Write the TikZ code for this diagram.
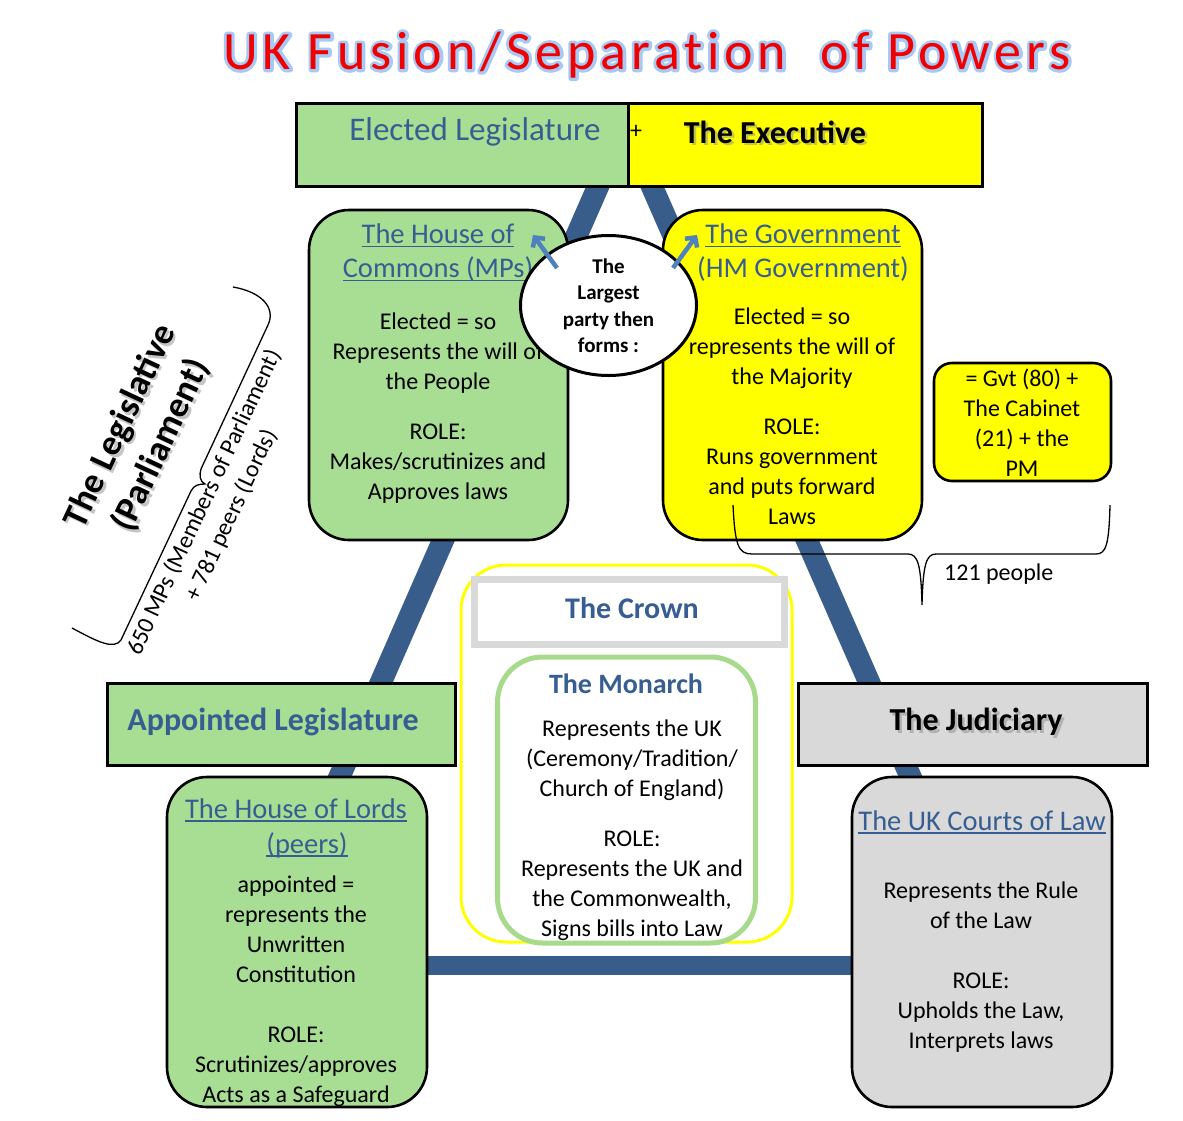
\documentclass[tikz,border=0pt]{standalone}
\usepackage{fontspec}
\setmainfont{Carlito}
\newfontfamily\titlefont[LetterSpace=9,Ligatures={NoCommon,NoRare,NoContextual}]{Carlito}
\usetikzlibrary{shapes.geometric,arrows.meta}
\definecolor{lgreen}{RGB}{168,222,148}
\definecolor{yel}{RGB}{255,255,0}
\definecolor{lgray}{RGB}{217,217,217}
\definecolor{hblue}{RGB}{55,94,146}
\definecolor{tri}{RGB}{56,93,138}
\definecolor{arrblue}{RGB}{79,129,189}
\definecolor{mgreen}{RGB}{168,218,140}
\definecolor{glow}{RGB}{165,200,245}
\definecolor{tred}{RGB}{240,0,0}
\newsavebox\ulbox
\newcommand\myul[1]{\sbox\ulbox{#1}\rlap{\rule[-3.5pt]{\wd\ulbox}{1.8pt}}\usebox\ulbox}
\newcommand\glowtext[1]{\special{pdf:literal direct 1 Tr 6 w 1 j 0.65 0.79 0.96 RG}#1\special{pdf:literal direct 0 Tr}}
\begin{document}
\begin{tikzpicture}[x=1pt,y=-1pt,
  body/.style={font=\fontsize{24}{30}\selectfont, align=center, inner sep=0pt},
  head/.style={font=\fontsize{28.5}{34}\selectfont, text=hblue, align=center, inner sep=0pt},
  bighead/.style={font=\bfseries\fontsize{32}{38}\selectfont, inner sep=0pt},
  rbox/.style={draw=black, line width=2.6pt, rounded corners=40pt, inner sep=0pt},
  sqbox/.style={draw=black, line width=3pt, inner sep=0pt},
  pillar/.style={draw=tri, line width=22pt, line join=round},
  link/.style={draw=arrblue, line width=4.5pt, -{Straight Barb[length=7pt,width=15pt]}},
  shade/.style={text=black!45, opacity=0.5},
  titlestyle/.style={font=\titlefont\fontsize{54}{60}\selectfont, inner sep=0pt},
  brace/.style={draw=black, line width=1.3pt},
]
\fill[white] (0,0) rectangle (1183,1120);
\useasboundingbox (0,0) rectangle (1183,1120);

% triangle
\coordinate (apex) at (625,125);
\coordinate (bl) at (257,965);
\coordinate (br) at (993,965);
\draw[pillar] (bl) -- (apex) -- (br);
\draw[draw=tri, line width=19pt] (bl) -- (br);

% title
\node[titlestyle, text=glow] (titleglow) at (647,55) {\glowtext{UK Fusion/Separation\ \ of Powers}};
\node[titlestyle, text=tred] (title) at (647,55) {UK Fusion/Separation\ \ of Powers};

% top box
\node[sqbox, fill=lgreen, minimum width=332, minimum height=83] (elbox) at (462,144.5) {};
\node[sqbox, fill=yel, minimum width=354, minimum height=83] (exbox) at (805,144.5) {};
\node[font=\fontsize{33}{38}\selectfont, text=hblue, inner sep=0pt] (eltext) at (475,132) {Elected Legislature};
\node[font=\fontsize{24}{28}\selectfont, inner sep=0pt] (plus) at (636,132) {+};
\node[bighead, shade] (exsh) at (777.5,134.5) {The Executive};
\node[bighead] (extext) at (775,132) {The Executive};

% House of Commons
\node[rbox, fill=lgreen, minimum width=259, minimum height=330] (commons) at (438.5,375) {};
\node[head] (commonsh) at (438,253) {\myul{The House of}\\\myul{Commons (MPs)}};
\node[body] (commonsb) at (438,408) {Elected = so\\Represents the will of\\the People\\[20pt]ROLE:\\Makes/scrutinizes and\\Approves laws};

% Government
\node[rbox, fill=yel, minimum width=259, minimum height=330] (govt) at (792.5,375) {};
\node[head] (govth) at (803,253) {\myul{The Government}\\(HM Government)};
\node[body] (govtb) at (792,416) {Elected = so\\represents the will of\\the Majority\\[20pt]ROLE:\\Runs government\\and puts forward\\Laws};

% ellipse
\node[ellipse, draw=black, line width=3pt, fill=white, minimum width=176, minimum height=140, inner sep=0pt,
      font=\bfseries\fontsize{21}{26.5}\selectfont, align=center] (party) at (608.5,305.5) {The\\Largest\\party then\\forms :};
\coordinate (a1s) at (557,268);
\coordinate (a1e) at (533,235);
\coordinate (a2s) at (673,268);
\coordinate (a2e) at (697,235);
\draw[link] (a1s) -- (a1e);
\draw[link] (a2s) -- (a2e);

% cabinet box
\node[draw=black, line width=2.6pt, rounded corners=18pt, fill=yel, minimum width=177, minimum height=118, inner sep=0pt] (cab) at (1022.5,422) {};
\node[body] (cabt) at (1022,423) {= Gvt (80) +\\The Cabinet\\(21) + the\\PM};

% right brace
\draw[brace] (733,505) .. controls (735,545) and (738,554) .. (752,554) -- (908,554)
  .. controls (918,554) and (921,565) .. (922,605)
  .. controls (923,565) and (926,554) .. (936,554) -- (1096,554)
  .. controls (1106,554) and (1109,545) .. (1110,505);
\node[body, anchor=west] (people) at (944,574) {121 people};

% left brace and rotated texts
\draw[brace] (72,628) .. controls (98,642) and (114,650) .. (121,640) -- (191,491)
  .. controls (194,485) and (199,484) .. (205,484)
  .. controls (200,482) and (199,475) .. (201,469) -- (268,325)
  .. controls (276,308) and (262,292) .. (233,287);
\node[font=\bfseries\fontsize{36}{45}\selectfont, align=center, inner sep=0pt, rotate=65, shade] (legsh) at (143.5,438.5) {The Legislative\\(Parliament)};
\node[font=\bfseries\fontsize{36}{45}\selectfont, align=center, inner sep=0pt, rotate=65] (leg) at (141,436) {The Legislative\\(Parliament)};
\node[body, rotate=65] (counts) at (218,509) {650 MPs (Members of Parliament)\\+ 781 peers (Lords)};

% crown
\node[draw=yel, line width=3pt, rounded corners=45pt, fill=white, minimum width=331, minimum height=377, inner sep=0pt] (crownout) at (626.5,753.5) {};
\node[draw=lgray, line width=7pt, fill=white, minimum width=310, minimum height=65, inner sep=0pt] (crownbox) at (629.5,611.5) {};
\node[font=\bfseries\fontsize{30}{36}\selectfont, text=hblue, inner sep=0pt] (crownt) at (632,608) {The Crown};
\node[draw=mgreen, line width=5pt, rounded corners=45pt, fill=white, minimum width=258, minimum height=286, inner sep=0pt] (monarch) at (626.5,800) {};
\node[font=\bfseries\fontsize{28}{34}\selectfont, text=hblue, inner sep=0pt] (monarchh) at (626,684) {The Monarch};
\node[body] (monarchb) at (632,830) {Represents the UK\\(Ceremony/Tradition/\\Church of England)\\[20pt]ROLE:\\Represents the UK and\\the Commonwealth,\\Signs bills into Law};

% appointed legislature & lords
\node[sqbox, fill=lgreen, minimum width=348, minimum height=82] (apbox) at (281,724) {};
\node[bighead, text=hblue] (aptext) at (273,722) {Appointed Legislature};
\node[rbox, fill=lgreen, minimum width=260, minimum height=330] (lords) at (297,942) {};
\node[head] (lordsh1) at (296,810) {\myul{The House of Lords}};
\node[head] (lordsh2) at (307,845) {\myul{(peers)}};
\node[body] (lordsb) at (296,991) {appointed =\\represents the\\Unwritten\\Constitution\\[30pt]ROLE:\\Scrutinizes/approves\\Acts as a Safeguard};

% judiciary & courts
\node[sqbox, fill=lgray, minimum width=349, minimum height=82] (judbox) at (972.5,724) {};
\node[bighead, shade] (judsh) at (978.5,724.5) {The Judiciary};
\node[bighead] (judtext) at (976,722) {The Judiciary};
\node[rbox, fill=lgray, minimum width=260, minimum height=330] (courts) at (982,942) {};
\node[head] (courtsh) at (982,822) {\myul{The UK Courts of Law}};
\node[body] (courtsb) at (981,967) {Represents the Rule\\of the Law\\[30pt]ROLE:\\Upholds the Law,\\Interprets laws};
\end{tikzpicture}
\end{document}
